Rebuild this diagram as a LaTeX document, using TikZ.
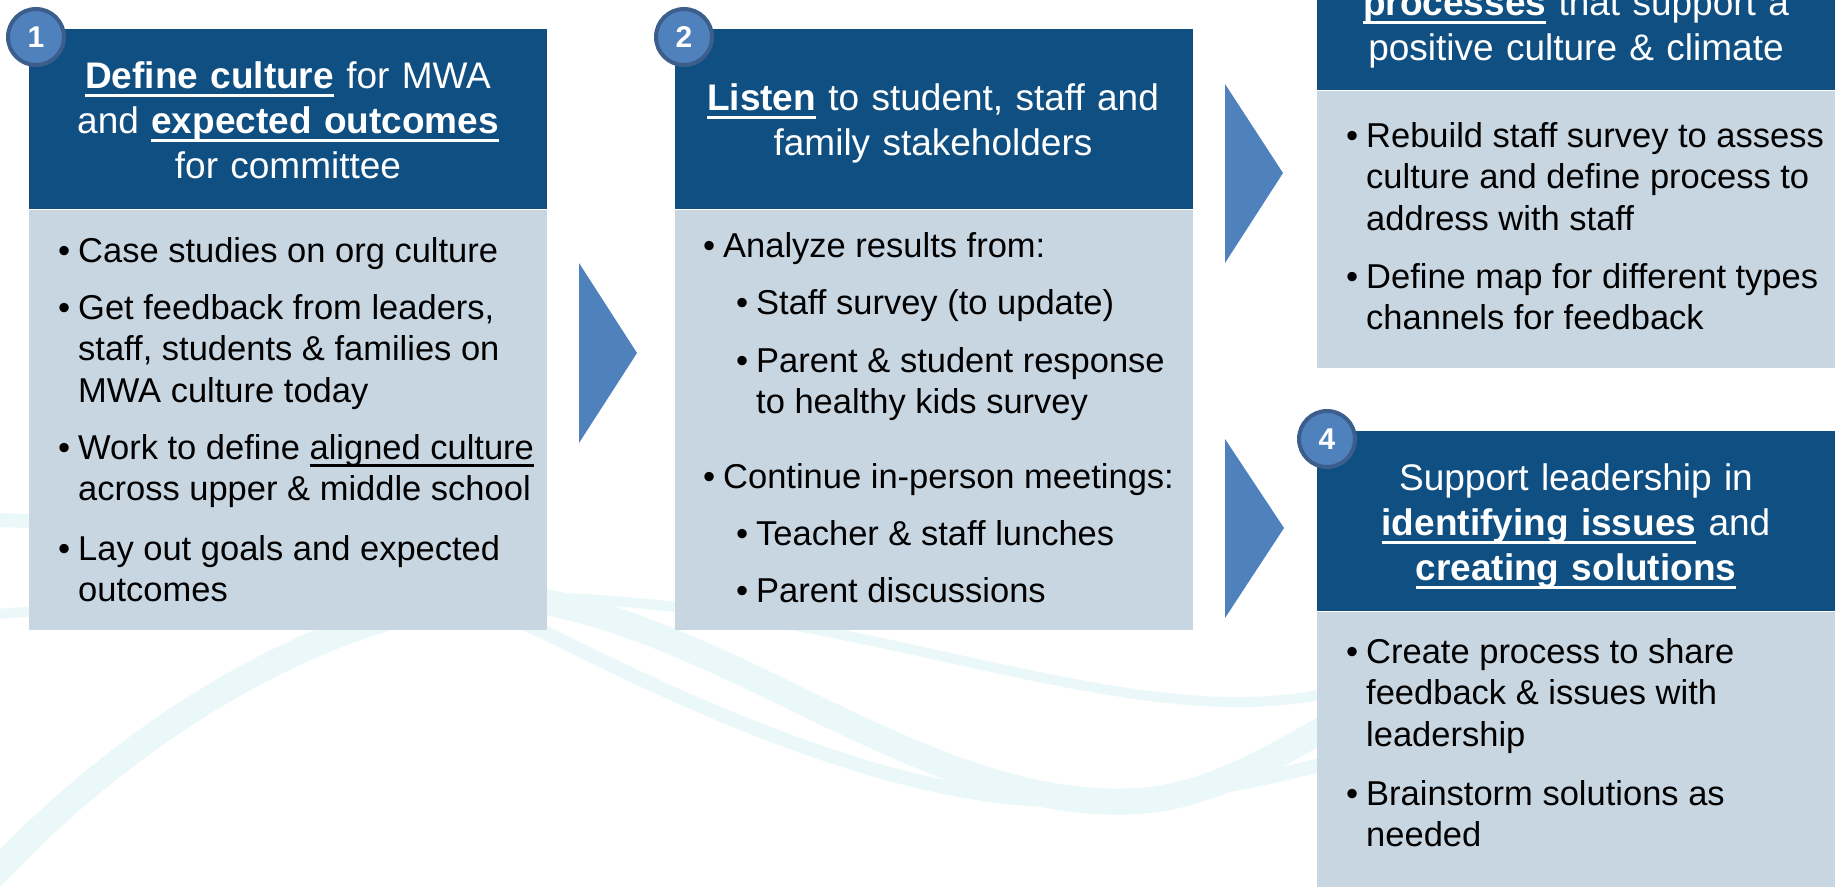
\documentclass[tikz,border=0pt]{standalone}
\usepackage{fontspec}
\setmainfont{Liberation Sans}
\usetikzlibrary{positioning}
\definecolor{hdblue}{RGB}{16,79,130}
\definecolor{bdgrey}{RGB}{200,214,226}
\definecolor{chevblue}{RGB}{79,129,189}
\definecolor{ringblue}{RGB}{60,94,140}
\definecolor{swoosh}{RGB}{235,248,249}
% underline with a bar of its own
\newcommand{\uln}[1]{\leavevmode\setbox0\hbox{#1}\rlap{\rule[-0.23em]{\wd0}{0.075em}}\box0\relax}
% bullet with hanging lines
\newcommand{\itm}[1]{\makebox[20pt][l]{\textbullet}\parbox[t]{470pt}{#1}}
\tikzset{
    %Define style for the title text
    headtxt/.style={
           text=white,
           text width=500,
           align=center,
           inner sep=0pt,
           font=\fontsize{37}{45}\selectfont},
    %Define style for boxes
    head/.style={
           rectangle,
           fill=hdblue,
           minimum width=518,
           minimum height=180,
           inner sep=0pt},
    body/.style={
           rectangle,
           fill=bdgrey,
           minimum width=518,
           inner sep=0pt},
    bul/.style={
           anchor=base west,
           inner sep=0pt,
           font=\fontsize{34.5}{41.5}\selectfont},
    badge/.style={
           circle,
           fill=chevblue,
           draw=ringblue, line width=4pt,
           minimum size=56,
           inner sep=0pt,
           text=white,
           font=\bfseries\fontsize{30}{30}\selectfont},
    chev/.style={fill=chevblue},
    wave/.style={draw=swoosh, line cap=round}
}
\begin{document}
\begin{tikzpicture}[x=1pt,y=-1pt]
\path[use as bounding box, fill=white] (0,0) rectangle (1835,886);
% background swooshes
\draw[wave, line width=26] (-20,890) .. controls (150,700) and (400,570) .. (560,605) .. controls (760,650) and (950,820) .. (1150,800) .. controls (1230,790) and (1300,740) .. (1340,720);
\draw[wave, line width=14] (-20,520) .. controls (150,520) and (400,560) .. (560,640) .. controls (700,710) and (900,800) .. (1060,800) .. controls (1180,800) and (1260,780) .. (1340,760);
\draw[wave, line width=10] (-20,615) .. controls (200,600) and (450,590) .. (600,600) .. controls (900,620) and (1150,740) .. (1340,690);

% boxes
\node[head, anchor=north west] (head1) at (29,29) {};
\node[body, below=0pt of head1, minimum height=420] (body1) {};
\node[head, anchor=north west] (head2) at (675,29) {};
\node[body, below=0pt of head2, minimum height=420] (body2) {};
\node[head, anchor=north west] (head3) at (1317,-90) {};
\node[body, below=0pt of head3, minimum height=277] (body3) {};
\node[head, anchor=north west] (head4) at (1317,431) {};
\node[body, below=0pt of head4, minimum height=300] (body4) {};

% titles
\node[headtxt, anchor=base] (title1) at (288,88) {\uln{\textbf{Define culture}} for MWA\\ and \uln{\textbf{expected outcomes}}\\ for committee};
\node[headtxt, anchor=base] (title2) at (933,110) {\uln{\textbf{Listen}} to student, staff and\\ family stakeholders};
\node[headtxt, anchor=base] (title3) at (1576,15) {\uln{\textbf{processes}} that support a\\ positive culture \& climate};
\node[headtxt, anchor=base] (title4) at (1576,490) {Support leadership in\\ \uln{\textbf{identifying issues}} and\\ \uln{\textbf{creating solutions}}};

% bullets
\node[bul] (b1a) at (58,262) {\itm{Case studies on org culture}};
\node[bul] (b1b) at (58,319) {\itm{Get feedback from leaders,\\ staff, students \& families on\\ MWA culture today}};
\node[bul] (b1c) at (58,459) {\itm{Work to define \uln{aligned culture}\\ across upper \& middle school}};
\node[bul] (b1d) at (58,560) {\itm{Lay out goals and expected\\ outcomes}};

\node[bul] (b2a) at (703,257) {\itm{Analyze results from:}};
\node[bul] (b2b) at (736,314) {\itm{Staff survey (to update)}};
\node[bul] (b2c) at (736,372) {\itm{Parent \& student response\\ to healthy kids survey}};
\node[bul] (b2d) at (703,488) {\itm{Continue in-person meetings:}};
\node[bul] (b2e) at (736,545) {\itm{Teacher \& staff lunches}};
\node[bul] (b2f) at (736,602) {\itm{Parent discussions}};

\node[bul] (b3a) at (1346,147) {\itm{Rebuild staff survey to assess\\ culture and define process to\\ address with staff}};
\node[bul] (b3b) at (1346,288) {\itm{Define map for different types\\ channels for feedback}};

\node[bul] (b4a) at (1346,663) {\itm{Create process to share\\ feedback \& issues with\\ leadership}};
\node[bul] (b4b) at (1346,805) {\itm{Brainstorm solutions as\\ needed}};

% chevrons
\fill[chev] (579,263) -- (637,353) -- (579,443) -- cycle;
\fill[chev] (1225,84) -- (1283,173) -- (1225,263) -- cycle;
\fill[chev] (1225,439) -- (1284,528) -- (1225,618) -- cycle;

% step numbers
\node[badge] (n1) at (36,37) {1};
\node[badge] (n2) at (684,37) {2};
\node[badge] (n4) at (1327,439) {4};
\end{tikzpicture}
\end{document}
